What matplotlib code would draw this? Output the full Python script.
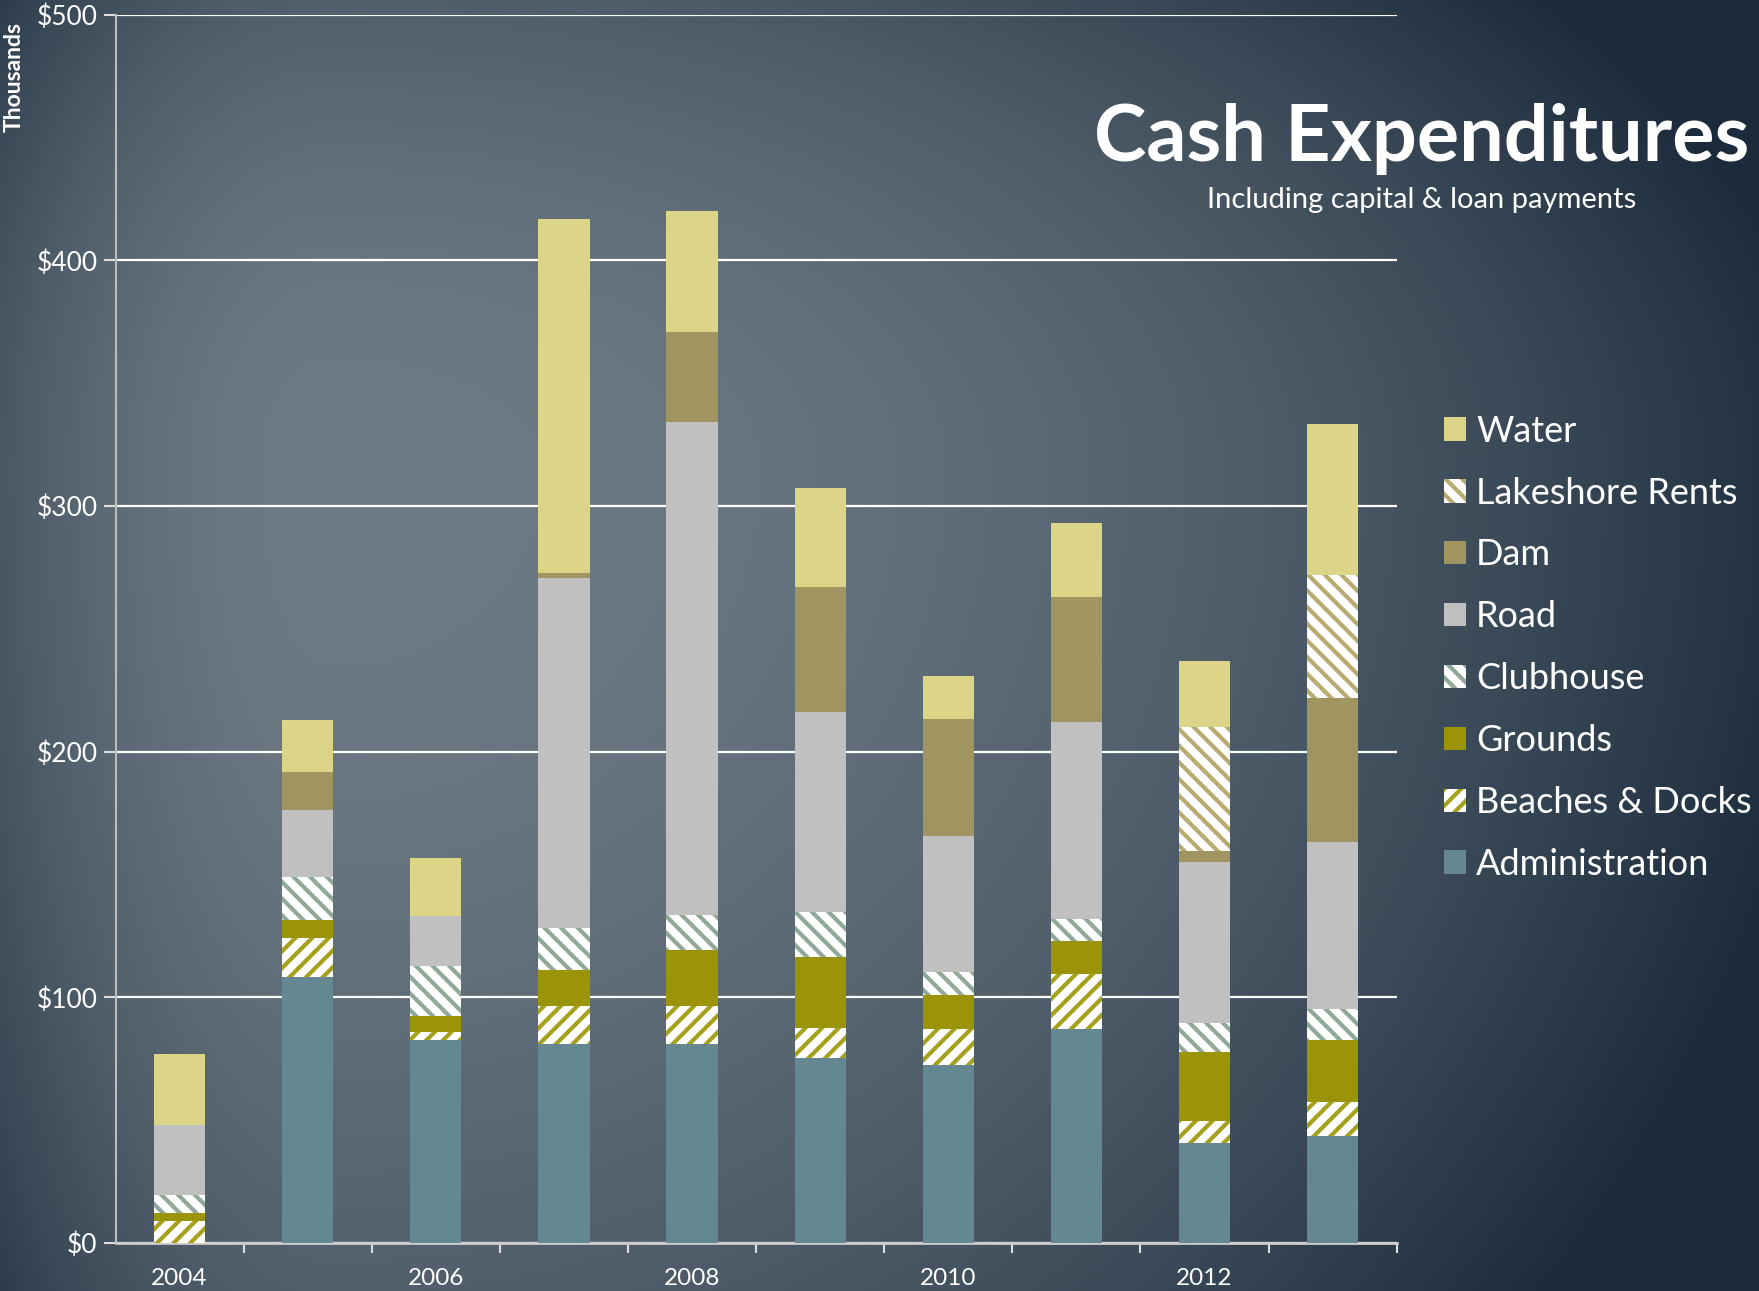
# Cash expenditures stacked bar chart
import numpy as np
import matplotlib
matplotlib.use('Agg')
import matplotlib.pyplot as plt
from matplotlib.patches import Patch

years = [2004, 2005, 2006, 2007, 2008, 2009, 2010, 2011, 2012, 2013]

# values in $ thousands, bottom of stack first
administration = [0, 108.2, 82.6, 80.8, 80.8, 75.3, 72.6, 87.2, 40.6, 43.4]
beaches_docks = [9.1, 16.0, 3.2, 15.5, 15.5, 12.4, 14.6, 22.4, 9.2, 14.1]
grounds = [3.2, 7.3, 6.4, 14.7, 22.9, 28.7, 13.7, 13.2, 27.8, 25.1]
clubhouse = [7.3, 17.4, 20.6, 17.3, 14.1, 18.3, 9.6, 9.2, 11.8, 12.5]
road = [28.3, 27.4, 20.1, 142.5, 201.0, 81.3, 55.3, 79.9, 65.5, 68.0]
dam = [0, 15.5, 0, 1.8, 36.5, 51.1, 47.4, 51.1, 4.6, 58.6]
lakeshore_rents = [0, 0, 0, 0, 0, 0, 0, 0, 50.4, 50.0]
water = [29.0, 21.0, 23.7, 144.0, 49.3, 40.2, 17.4, 30.2, 27.1, 61.6]

series = [
    ("Administration", administration),
    ("Beaches & Docks", beaches_docks),
    ("Grounds", grounds),
    ("Clubhouse", clubhouse),
    ("Road", road),
    ("Dam", dam),
    ("Lakeshore Rents", lakeshore_rents),
    ("Water", water),
]

# (face, hatch colour, hatch)
STYLES = {
    "Administration": ("#658792", None, None),
    "Beaches & Docks": ("white", "#a6a01c", "//"),
    "Grounds": ("#9c9408", None, None),
    "Clubhouse": ("white", "#8fa898", "\\\\"),
    "Road": ("#c0c0c0", None, None),
    "Dam": ("#a09560", None, None),
    "Lakeshore Rents": ("white", "#b8aa70", "\\\\"),
    "Water": ("#dcd588", None, None),
}

FONT = ["Lato", "DejaVu Sans"]
plt.rcParams['font.family'] = FONT
plt.rcParams['hatch.linewidth'] = 3.0

fig = plt.figure(figsize=(17.59, 12.91), dpi=100)

# off-centre gradient background (lighter left-middle, dark right)
bg = fig.add_axes([0, 0, 1, 1], zorder=-10)
h, w = 1291, 1759
yy, xx = np.mgrid[0:h, 0:w].astype(float)
cx, cy = 330, 470
dx = xx - cx
dy = yy - cy
rx = np.where(dx < 0, 500.0, 1514.0)
ry = np.where(dy < 0, 800.0, 1400.0)
t = np.clip((dx / rx) ** 2 + (dy / ry) ** 2, 0, 1)
inner = np.array([0.43, 0.478, 0.518])
outer = np.array([0.106, 0.169, 0.235])
img = inner[None, None, :] * (1 - t[..., None]) + outer[None, None, :] * t[..., None]
bg.imshow(img, aspect='auto', extent=[0, 1, 0, 1])
bg.axis("off")

ax = fig.add_axes([0.0657, 0.0372, 0.7283, 0.9515])
ax.set_facecolor("none")

x = np.arange(len(years))
bottom = np.zeros(len(years))
for name, vals in series:
    face, hcol, hatch = STYLES[name]
    vals = np.array(vals, dtype=float)
    if hatch:
        ax.bar(x, vals, 0.4, bottom=bottom, color=face, edgecolor=hcol,
               hatch=hatch, linewidth=0, zorder=3)
    else:
        ax.bar(x, vals, 0.4, bottom=bottom, color=face, linewidth=0, zorder=3)
    bottom += vals

ax.set_xlim(-0.5, len(years) - 0.5)
ax.set_ylim(0, 500)
ax.set_yticks(np.arange(0, 501, 100))
ax.set_yticklabels([f"${v}" for v in range(0, 501, 100)])
ax.yaxis.grid(True, color="white", linewidth=1.6, zorder=1)
ax.set_axisbelow(True)

ax.set_xticks(x[::2])
ax.set_xticklabels([str(y) for y in years[::2]])
ax.set_xticks(np.arange(len(years)) + 0.5, minor=True)
ax.tick_params(axis="x", which="major", length=0, pad=18, labelcolor="white", labelsize=17.5)
ax.tick_params(axis="x", which="minor", length=7, width=1.5, color="#dddddd")
ax.tick_params(axis="y", length=9, width=1.5, color="#dddddd", labelcolor="white",
               labelsize=19, pad=4)

for s in ["top", "right"]:
    ax.spines[s].set_visible(False)
ax.spines["left"].set_color("#bbbbbb")
ax.spines["left"].set_linewidth(1.5)
ax.spines["bottom"].set_color("#cccccc")
ax.spines["bottom"].set_linewidth(2)

fig.text(0.008, 0.94, "Thousands", rotation=90, color="white", fontsize=16.5,
         fontweight="bold", ha="center", va="center")

fig.text(0.808, 0.892, "Cash Expenditures", color="white", fontsize=57,
         fontweight="bold", ha="center", va="center")
fig.text(0.808, 0.845, "Including capital & loan payments", color="white",
         fontsize=21, ha="center", va="center")

handles = []
for name, _ in reversed(series):
    face, hcol, hatch = STYLES[name]
    if hatch:
        handles.append(Patch(facecolor=face, edgecolor=hcol, hatch=hatch, linewidth=0, label=name))
    else:
        handles.append(Patch(facecolor=face, linewidth=0, label=name))
fig.legend(handles=handles, loc="upper left", bbox_to_anchor=(0.8125, 0.690),
           frameon=False, fontsize=26, labelcolor="white", handlelength=0.62,
           handleheight=0.62, handletextpad=0.28, labelspacing=0.80, borderaxespad=0)

fig.savefig("out.png", dpi=100)
